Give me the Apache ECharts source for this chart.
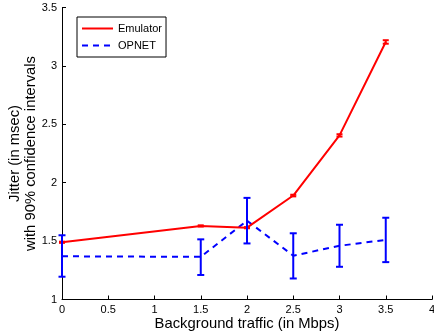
<!DOCTYPE html>
<html>
<head>
<meta charset="utf-8">
<script src="https://cdn.jsdelivr.net/npm/echarts@6/dist/echarts.min.js"></script>
<style>
  html, body { margin: 0; padding: 0; background: #fff; }
  #chart { width: 434px; height: 336px; }
</style>
</head>
<body>
<div id="chart"></div>
<script>
// Background traffic levels (Mbps)
const trafficMbps = [0, 1.5, 2, 2.5, 3, 3.5];

// Emulator jitter mean and 90% CI bounds (msec)
const emulatorMean = [1.49, 1.63, 1.615, 1.89, 2.405, 3.205];
const emulatorLow  = [1.485, 1.625, 1.61, 1.883, 2.395, 3.19];
const emulatorHigh = [1.495, 1.635, 1.62, 1.897, 2.415, 3.22];

// OPNET jitter mean and 90% CI bounds (msec)
const opnetMean = [1.37, 1.365, 1.675, 1.375, 1.46, 1.51];
const opnetLow  = [1.195, 1.21, 1.48, 1.18, 1.28, 1.32];
const opnetHigh = [1.55, 1.515, 1.87, 1.567, 1.64, 1.70];

const FONT = 'Liberation Sans, Arial, Helvetica, sans-serif';

function pairs(xs, ys) { return xs.map((x, i) => [x, ys[i]]); }
function ciRows(xs, lo, hi) { return xs.map((x, i) => [x, lo[i], hi[i]]); }

// Vertical error bar with caps
function errorBar(color, capHalf, width) {
  return function (params, api) {
    const x = api.value(0);
    const lo = api.coord([x, api.value(1)]);
    const hi = api.coord([x, api.value(2)]);
    const style = { stroke: color, lineWidth: width, fill: null };
    return {
      type: 'group',
      children: [
        { type: 'line', shape: { x1: lo[0], y1: lo[1], x2: hi[0], y2: hi[1] }, style },
        { type: 'line', shape: { x1: lo[0] - capHalf, y1: lo[1], x2: lo[0] + capHalf, y2: lo[1] }, style },
        { type: 'line', shape: { x1: hi[0] - capHalf, y1: hi[1], x2: hi[0] + capHalf, y2: hi[1] }, style }
      ]
    };
  };
}

const chart = echarts.init(document.getElementById('chart'), null, { renderer: 'canvas' });

chart.setOption({
  animation: false,
  backgroundColor: '#fff',
  grid: { left: 62, right: 2, top: 7.5, bottom: 36.5, containLabel: false, outerBoundsMode: 'none' },
  legend: {
    left: 77, top: 17,
    orient: 'vertical',
    data: ['Emulator', 'OPNET'],
    itemWidth: 31, itemHeight: 10, itemGap: 6,
    padding: [6, 4, 6, 4],
    borderColor: '#000', borderWidth: 1,
    backgroundColor: '#fff',
    // line samples only, no marker on top
    itemStyle: { opacity: 0 },
    textStyle: { fontFamily: FONT, fontSize: 11, color: '#000' },
    selectedMode: false
  },
  xAxis: {
    type: 'value', min: 0, max: 4, interval: 0.5,
    name: 'Background traffic (in Mbps)',
    nameLocation: 'middle', nameGap: 17, nameMoveOverlap: false,
    nameTextStyle: { fontFamily: FONT, fontSize: 14.8, color: '#000', verticalAlign: 'top' },
    axisLine: { lineStyle: { color: '#000', width: 1 } },
    axisTick: { inside: true, length: 4, lineStyle: { color: '#000' } },
    axisLabel: { fontFamily: FONT, fontSize: 11, color: '#000', margin: 5 },
    splitLine: { show: false }
  },
  yAxis: {
    type: 'value', min: 1, max: 3.5, interval: 0.5,
    name: 'Jitter (in msec)\nwith 90% confidence intervals',
    nameLocation: 'middle', nameGap: 23.5, nameRotate: 90, nameMoveOverlap: false,
    nameTextStyle: { fontFamily: FONT, fontSize: 14.8, color: '#000', lineHeight: 16 },
    axisLine: { lineStyle: { color: '#000', width: 1 } },
    axisTick: { inside: true, length: 4, lineStyle: { color: '#000' } },
    axisLabel: { fontFamily: FONT, fontSize: 11, color: '#000', margin: 5 },
    splitLine: { show: false }
  },
  series: [
    {
      name: 'Emulator', type: 'line', data: pairs(trafficMbps, emulatorMean),
      symbol: 'none', z: 3,
      itemStyle: { color: '#ff0000' },
      lineStyle: { color: '#ff0000', width: 2 }
    },
    {
      name: 'OPNET', type: 'line', data: pairs(trafficMbps, opnetMean),
      symbol: 'none', z: 2,
      itemStyle: { color: '#0000ff' },
      lineStyle: { color: '#0000ff', width: 2, type: [6, 5] }
    },
    {
      type: 'custom', data: ciRows(trafficMbps, emulatorLow, emulatorHigh),
      renderItem: errorBar('#ff0000', 3, 2), z: 4, silent: true
    },
    {
      type: 'custom', data: ciRows(trafficMbps, opnetLow, opnetHigh),
      renderItem: errorBar('#0000ff', 3.5, 2), z: 4, silent: true
    }
  ]
});
</script>
</body>
</html>
